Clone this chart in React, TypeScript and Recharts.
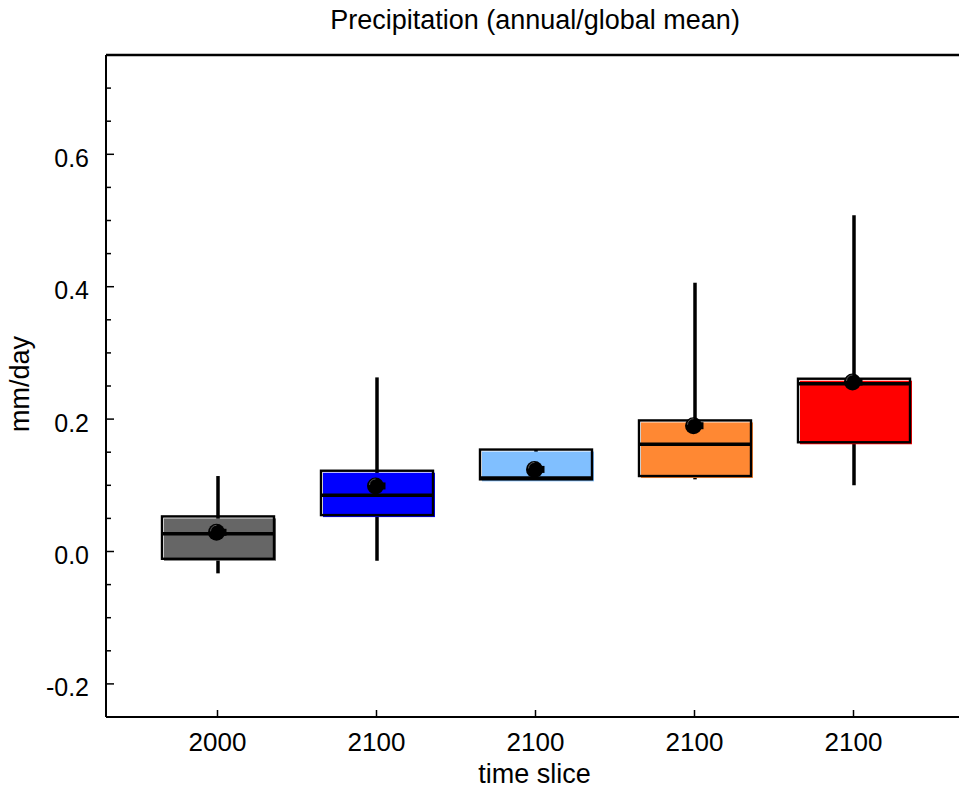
import React from 'react';
import { ComposedChart, Bar, Scatter, Line, XAxis, YAxis, Label } from 'recharts';

const categories = ['2000', '2100', '2100', '2100', '2100'];
const whiskerLow = [-0.033, -0.014, 0.109, 0.109, 0.1];
const boxLow = [-0.011, 0.055, 0.109, 0.114, 0.165];
const medians = [0.027, 0.085, 0.111, 0.162, 0.2535];
const boxHigh = [0.053, 0.122, 0.154, 0.198, 0.261];
const whiskerHigh = [0.114, 0.263, 0.154, 0.406, 0.508];
const means = [0.029, 0.099, 0.124, 0.19, 0.256];
const colors = ['#666666', '#0000ff', '#80bfff', '#ff8833', '#ff0000'];
const yTicks = [-0.25, -0.2, -0.15, -0.1, -0.05, 0, 0.05, 0.1, 0.15, 0.2, 0.25, 0.3, 0.35, 0.4, 0.45, 0.5, 0.55, 0.6, 0.65, 0.7, 0.75];
const yLabels = ['-0.2', '0.0', '0.2', '0.4', '0.6'];

const data = categories.map((c, i) => ({
  slot: i,
  name: c,
  range: [boxLow[i], boxHigh[i]],
  lo: boxLow[i],
  hi: boxHigh[i],
  wLo: whiskerLow[i],
  wHi: whiskerHigh[i],
  med: medians[i],
  mean: means[i],
  color: colors[i],
}));

const FONT = '"Liberation Sans", Arial, Helvetica, sans-serif';

const isMajor = (v: number) => Math.abs(v * 5 - Math.round(v * 5)) < 1e-6;
const fmt = (v: number) => {
  const s = (Math.round(v * 10) / 10).toFixed(1);
  return s === '-0.0' ? '0.0' : s;
};

const LeftTick = (props: any) => {
  const { x, y, payload } = props;
  const v = payload.value as number;
  const major = isMajor(v);
  const label = fmt(v);
  return (
    <g>
      <line x1={x} x2={x + (major ? 8 : 5)} y1={y} y2={y} stroke="#000" strokeWidth={1.5} />
      {major && yLabels.includes(label) && (
        <text x={x - 17} y={y + 12.5} textAnchor="end" fontSize={25} fontFamily={FONT} fill="#000">
          {label}
        </text>
      )}
    </g>
  );
};

const RightTick = (props: any) => {
  const { x, y, payload } = props;
  const major = isMajor(payload.value);
  return <line x1={x + 8} x2={major ? x : x + 3} y1={y} y2={y} stroke="#000" strokeWidth={1.5} />;
};

const BottomTick = (props: any) => {
  const { x, y, payload } = props;
  return (
    <g>
      <line x1={x} x2={x} y1={y} y2={y - 7} stroke="#000" strokeWidth={1.5} />
      <text x={x} y={y + 34} textAnchor="middle" fontSize={26} fontFamily={FONT} fill="#000">
        {categories[payload.value]}
      </text>
    </g>
  );
};

const BoxShape = (props: any) => {
  const { x, y, width, height, payload } = props;
  const top = Math.min(y, y + height);
  const h = Math.abs(height);
  const span = payload.hi - payload.lo;
  const py = (v: number) => top + ((payload.hi - v) / span) * h;
  const cx = x + width / 2;
  return (
    <g>
      <line x1={cx} x2={cx} y1={py(payload.wHi)} y2={py(payload.wLo)} stroke="#000" strokeWidth={3.5} />
      <rect x={x + 2} y={top + 2} width={width} height={h} fill={payload.color} />
      <rect x={x} y={top} width={width} height={h} fill="none" stroke="#000" strokeWidth={2.4} />
      <line x1={x} x2={x + width} y1={py(payload.med)} y2={py(payload.med)} stroke="#000" strokeWidth={3.5} />
    </g>
  );
};

const MeanDot = (props: any) => {
  const { cx, cy } = props;
  return (
    <g>
      <rect x={cx} y={cy - 3.5} width={9} height={7} fill="#000" />
      <circle cx={cx - 1} cy={cy} r={8.5} fill="#000" />
      <path d={`M ${cx - 7} ${cy - 1} A 6 6 0 0 1 ${cx - 1} ${cy - 7}`} stroke="#555" strokeWidth={1} fill="none" />
    </g>
  );
};

const NoDot = () => null;

export default function App() {
  return (
    <div style={{ position: 'fixed', left: 0, top: 0, width: 959, height: 792, overflow: 'hidden', background: '#fff' }}>
      <ComposedChart
        width={1000}
        height={792}
        data={data}
        margin={{ top: 54, right: 24, bottom: 15, left: 46 }}
      >
        <XAxis
          xAxisId="b"
          dataKey="slot"
          type="category"
          orientation="bottom"
          height={60}
          padding={{ left: 32, right: 33 }}
          axisLine={{ stroke: '#000', strokeWidth: 2 }}
          tickLine={false}
          tickSize={0}
          tickMargin={0}
          interval={0}
          tick={<BottomTick />}
        >
          <Label
            content={() => (
              <text x={534.5} y={783} textAnchor="middle" fontSize={27} fontFamily={FONT} fill="#000">
                time slice
              </text>
            )}
          />
        </XAxis>
        <XAxis
          xAxisId="t"
          dataKey="slot"
          type="category"
          orientation="top"
          height={1}
          padding={{ left: 32, right: 33 }}
          axisLine={{ stroke: '#000', strokeWidth: 2.5 }}
          tickLine={false}
          tick={false}
        >
          <Label
            content={() => (
              <text x={535} y={28.5} textAnchor="middle" fontSize={27} fontFamily={FONT} fill="#000">
                Precipitation (annual/global mean)
              </text>
            )}
          />
        </XAxis>
        <YAxis
          yAxisId="l"
          orientation="left"
          width={60}
          type="number"
          domain={[-0.25, 0.75]}
          ticks={yTicks}
          interval={0}
          allowDataOverflow
          axisLine={{ stroke: '#000', strokeWidth: 2 }}
          tickLine={false}
          tickSize={0}
          tickMargin={0}
          tick={<LeftTick />}
        >
          <Label
            content={() => (
              <text
                x={29}
                y={384}
                transform="rotate(-90 29 384)"
                textAnchor="middle"
                fontSize={27}
                fontFamily={FONT}
                fill="#000"
              >
                mm/day
              </text>
            )}
          />
        </YAxis>
        <YAxis
          yAxisId="r"
          orientation="right"
          width={10}
          type="number"
          domain={[-0.25, 0.75]}
          ticks={yTicks}
          interval={0}
          allowDataOverflow
          axisLine={{ stroke: '#000', strokeWidth: 2 }}
          tickLine={false}
          tickSize={0}
          tickMargin={0}
          tick={<RightTick />}
        />
        <Bar
          xAxisId="b"
          yAxisId="l"
          dataKey="range"
          barSize={112}
          shape={<BoxShape />}
          isAnimationActive={false}
        />
        <Scatter
          xAxisId="b"
          yAxisId="l"
          dataKey="mean"
          shape={<MeanDot />}
          isAnimationActive={false}
        />
        <Line
          xAxisId="t"
          yAxisId="r"
          dataKey="mean"
          stroke="none"
          dot={<NoDot />}
          activeDot={false}
          legendType="none"
          isAnimationActive={false}
        />
      </ComposedChart>
    </div>
  );
}
